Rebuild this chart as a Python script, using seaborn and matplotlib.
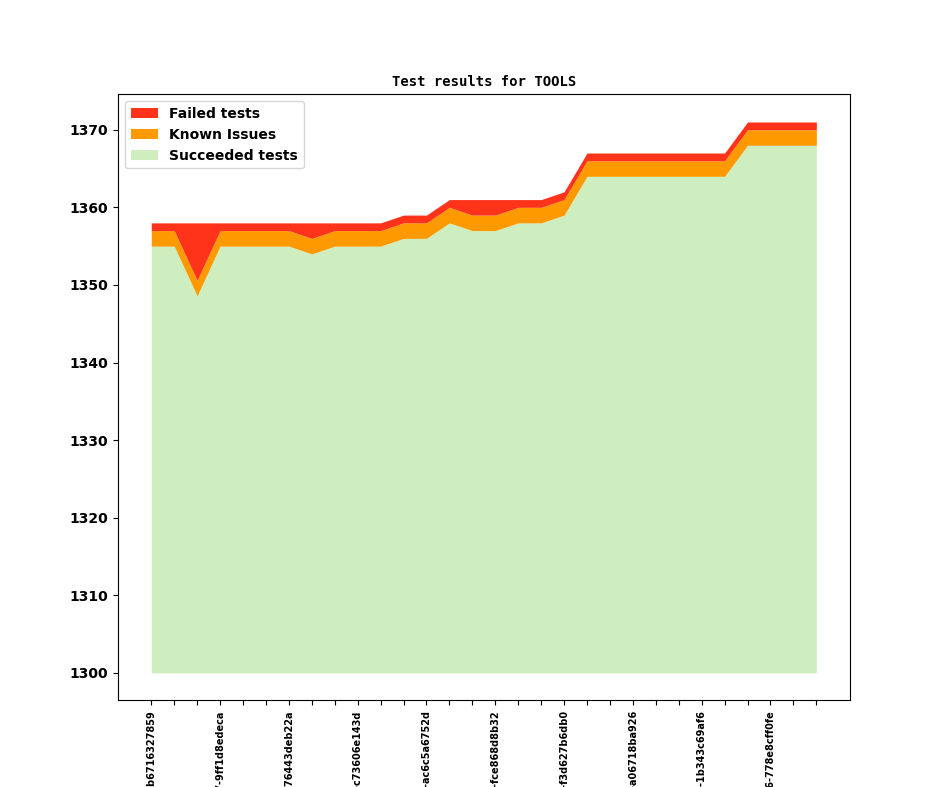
import numpy as np
import matplotlib
matplotlib.use("Agg")
import matplotlib.pyplot as plt
import seaborn as sns

# builds (only every third one gets a label on the axis)
build_labels = [
    "20170601-b6716327859", "", "",
    "20170607-9ff1d8edeca", "", "",
    "20170612-76443deb22a", "", "",
    "20170615-c73606e143d", "", "",
    "20170620-ac6c5a6752d", "", "",
    "20170623-fce868d8b32", "", "",
    "20170628-f3d627b6db0", "", "",
    "20170703-a06718ba926", "", "",
    "20170706-1b343c69af6", "", "",
    "20170716-778e8cff0fe", "", "",
]

succeeded = [1355, 1355, 1348.6, 1355, 1355, 1355, 1355, 1354, 1355, 1355,
             1355, 1356, 1356, 1358, 1357, 1357, 1358, 1358, 1359, 1364,
             1364, 1364, 1364, 1364, 1364, 1364, 1368, 1368, 1368, 1368]
known = [2] * 30
failed = [1, 1, 7.4, 1, 1, 1, 1, 2, 1, 1,
          1, 1, 1, 1, 2, 2, 1, 1, 1, 1,
          1, 1, 1, 1, 1, 1, 1, 1, 1, 1]
base = 1300

sns.set_style("ticks", {"axes.edgecolor": "black", "text.color": "black",
                        "xtick.color": "black", "ytick.color": "black"})
colors = {"Succeeded tests": "#cfeebf", "Known Issues": "#ff9900",
          "Failed tests": "#ff331a"}

x = np.arange(len(succeeded))
s = np.array(succeeded, dtype=float)
k = s + np.array(known)
f = k + np.array(failed)

fig, ax = plt.subplots(figsize=(9.44, 7.87), dpi=100)
h1 = ax.fill_between(x, base, s, color=colors["Succeeded tests"], lw=0,
                     label="Succeeded tests")
h2 = ax.fill_between(x, s, k, color=colors["Known Issues"], lw=0,
                     label="Known Issues")
h3 = ax.fill_between(x, k, f, color=colors["Failed tests"], lw=0,
                     label="Failed tests")

ax.set_xticks(x)
ax.set_xticklabels(build_labels, rotation=90, fontsize=7.05, fontweight="bold")
ax.set_yticks(range(1300, 1371, 10))
plt.setp(ax.get_yticklabels(), fontsize=10, fontweight="bold")
ax.tick_params(direction="out", length=3.5, width=0.8)
for sp in ax.spines.values():
    sp.set_visible(True)
    sp.set_linewidth(0.8)

ax.set_title("Test results for TOOLS", fontsize=10, fontweight="bold",
             family="DejaVu Sans Mono")
ax.legend(handles=[h3, h2, h1], loc="upper left", frameon=True,
          prop={"weight": "bold", "size": 10})

fig.subplots_adjust(left=0.125, right=0.9, top=0.88, bottom=0.11)
fig.savefig("out.png", dpi=100)
